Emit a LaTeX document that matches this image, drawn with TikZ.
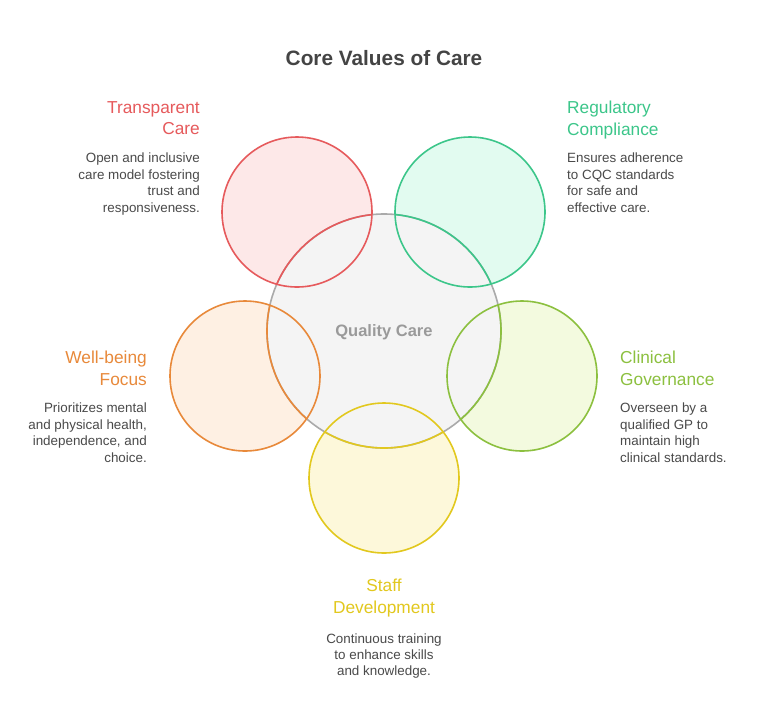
\documentclass[tikz,border=0pt]{standalone}
\usepackage{fontspec}
\setmainfont{Liberation Sans}
\definecolor{cRed}{HTML}{E65A5C}
\definecolor{fRed}{HTML}{FDE8E8}
\definecolor{cGrn}{HTML}{3CC68A}
\definecolor{fGrn}{HTML}{E2FBF0}
\definecolor{cOrg}{HTML}{E8893A}
\definecolor{fOrg}{HTML}{FEF0E3}
\definecolor{cLim}{HTML}{8CC03F}
\definecolor{fLim}{HTML}{F3FADF}
\definecolor{cYel}{HTML}{E2C81E}
\definecolor{fYel}{HTML}{FDF8DA}
\definecolor{cGry}{HTML}{AAAAAA}
\definecolor{fGry}{HTML}{F4F4F4}
\definecolor{tDark}{HTML}{444444}
\definecolor{tBody}{HTML}{4A4A4A}
\definecolor{tQual}{HTML}{9A9A9A}
\tikzset{
  petal/.style={circle, inner sep=0pt, minimum size=150pt, fill=#1},
  ring/.style={draw=#1, line width=1.6pt},
  hdr/.style={font=\fontsize{17.3}{21.8}\selectfont, text=#1, inner sep=0pt},
  body/.style={font=\fontsize{13.4}{16.4}\selectfont, text=tBody, inner sep=0pt},
}
\begin{document}
\begin{tikzpicture}[x=1pt,y=-1pt]
\useasboundingbox (0,0) rectangle (768,724);
\fill[white] (0,0) rectangle (768,724);
% title
\node[font=\bfseries\fontsize{20.8}{25}\selectfont, text=tDark] (title) at (384,58) {Core Values of Care};
% petal fills
\node[petal=fRed] (tc) at (297,212) {};
\node[petal=fGrn] (rc) at (470,212) {};
\node[petal=fOrg] (wb) at (245,376) {};
\node[petal=fLim] (cg) at (522,376) {};
\node[petal=fYel] (sd) at (384,478) {};
% central circle
\node[circle, inner sep=0pt, minimum size=234pt, fill=fGry, draw=cGry, line width=1.6pt] (qc) at (384,331) {};
\node[font=\bfseries\fontsize{16.5}{20}\selectfont, text=tQual] (qct) at (384,332) {Quality Care};
% central outline recoloured inside each petal
\foreach \p/\c in {tc/cRed, rc/cGrn, wb/cOrg, cg/cLim, sd/cYel}{
  \begin{scope}
    \clip (\p) circle[radius=75];
    \draw[ring=\c] (qc) circle[radius=117];
  \end{scope}
}
% petal outlines
\draw[ring=cRed] (tc) circle[radius=75];
\draw[ring=cGrn] (rc) circle[radius=75];
\draw[ring=cOrg] (wb) circle[radius=75];
\draw[ring=cLim] (cg) circle[radius=75];
\draw[ring=cYel] (sd) circle[radius=75];
% labels
\node[hdr=cRed, align=right, anchor=north east] (tch) at (200,101) {Transparent\\Care};
\node[body, align=right, anchor=north east] (tcb) at (200,153) {Open and inclusive\\care model fostering\\trust and\\responsiveness.};
\node[hdr=cGrn, align=left, anchor=north west] (rch) at (567,101) {Regulatory\\Compliance};
\node[body, align=left, anchor=north west] (rcb) at (567,153) {Ensures adherence\\to CQC standards\\for safe and\\effective care.};
\node[hdr=cOrg, align=right, anchor=north east] (wbh) at (147,351) {Well-being\\Focus};
\node[body, align=right, anchor=north east] (wbb) at (147,403) {Prioritizes mental\\and physical health,\\independence, and\\choice.};
\node[hdr=cLim, align=left, anchor=north west] (cgh) at (620,351) {Clinical\\Governance};
\node[body, align=left, anchor=north west] (cgb) at (620,403) {Overseen by a\\qualified GP to\\maintain high\\clinical standards.};
\node[hdr=cYel, align=center, anchor=north] (sdh) at (384,579) {Staff\\Development};
\node[body, align=center, anchor=north, font=\fontsize{13.4}{15.6}\selectfont] (sdb) at (384,634) {Continuous training\\to enhance skills\\and knowledge.};
\end{tikzpicture}
\end{document}
